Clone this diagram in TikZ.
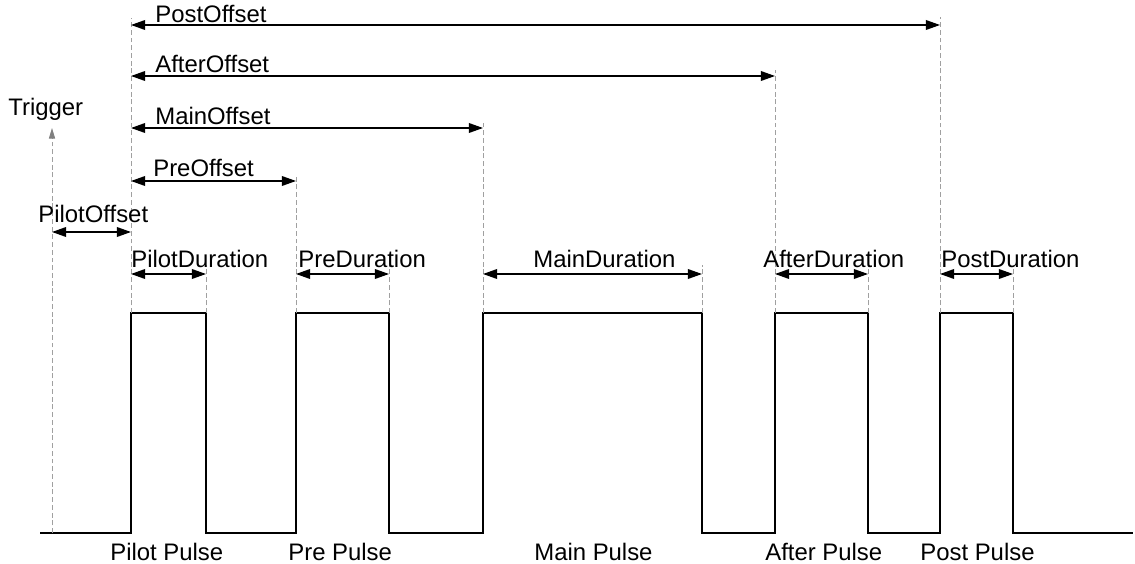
\documentclass[tikz,border=0pt]{standalone}
\usepackage{fontspec}
\setmainfont{Liberation Sans}
\usepackage{xcolor}
\usepackage{tikz}
\usetikzlibrary{arrows.meta,calc}
\definecolor{PTGuide}{HTML}{A0A0A0}
\definecolor{PTWave} {HTML}{000000}

\begin{document}
\begin{tikzpicture}[x=0.02cm,y=-0.02cm,
    lbl/.style={font=\fontsize{13.6}{16}\selectfont,anchor=base west,inner sep=0pt},
    dim/.style={{Triangle[length=8pt,width=5.5pt]}-{Triangle[length=8pt,width=5.5pt]},line width=0.75pt},
    guide/.style={PTGuide,dash pattern=on 2.8pt off 1.6pt,line width=0.5pt},
    wave/.style={PTWave,line width=0.6pt}]
    \useasboundingbox (0,0) rectangle (1135,564);
    % pulse edges
    \coordinate (start)  at (40,533);
    \coordinate (stop)   at (1133,533);
    \coordinate (trig)   at (52,533);
    \coordinate (trigtop) at (52,128);
    \coordinate (pilotL) at (131,313);
    \coordinate (pilotR) at (206,313);
    \coordinate (preL)   at (296,313);
    \coordinate (preR)   at (389,313);
    \coordinate (mainL)  at (483,313);
    \coordinate (mainR)  at (702,313);
    \coordinate (afterL) at (775,313);
    \coordinate (afterR) at (868,313);
    \coordinate (postL)  at (940,313);
    \coordinate (postR)  at (1013,313);

    \draw[wave] (start) -- (pilotL |- start) -- (pilotL) -- (pilotR) -- (pilotR |- start)
      -- (preL |- start) -- (preL) -- (preR) -- (preR |- start)
      -- (mainL |- start) -- (mainL) -- (mainR) -- (mainR |- start)
      -- (afterL |- start) -- (afterL) -- (afterR) -- (afterR |- start)
      -- (postL |- start) -- (postL) -- (postR) -- (postR |- start) -- (stop);

    % guide lines
    \draw[guide,-{Triangle[length=6pt,width=3.5pt,color=gray]}] (trig) -- (trigtop);
    \draw[guide] (pilotL) -- (pilotL |- 0,18);
    \draw[guide] (postL)  -- (postL |- 0,17);
    \draw[guide] (afterL) -- (afterL |- 0,70);
    \draw[guide] (mainL)  -- (mainL |- 0,122);
    \draw[guide] (preL)   -- (preL |- 0,175);
    \foreach \e in {pilotR,preR,mainR,afterR,postR}
      \draw[guide] (\e) -- (\e |- 0,265);

    % offsets
    \draw[dim] (pilotL |- 0,25)  -- (postL |- 0,25);
    \draw[dim] (pilotL |- 0,76)  -- (afterL |- 0,76);
    \draw[dim] (pilotL |- 0,128) -- (mainL |- 0,128);
    \draw[dim] (pilotL |- 0,181) -- (preL |- 0,181);
    \draw[dim] (trig |- 0,232)   -- (pilotL |- 0,232);
    \node[lbl] (postoff)  at (155,23)  {PostOffset};
    \node[lbl] (afteroff) at (155,73)  {AfterOffset};
    \node[lbl] (mainoff)  at (155,125) {MainOffset};
    \node[lbl] (preoff)   at (153,177) {PreOffset};
    \node[lbl] (pilotoff) at (38,222)  {PilotOffset};
    \node[lbl] (trigger)  at (8,116)   {Trigger};

    % durations
    \draw[dim] (pilotL |- 0,274) -- (pilotR |- 0,274);
    \draw[dim] (preL |- 0,274)   -- (preR |- 0,274);
    \draw[dim] (mainL |- 0,274)  -- (mainR |- 0,274);
    \draw[dim] (afterL |- 0,274) -- (afterR |- 0,274);
    \draw[dim] (postL |- 0,274)  -- (postR |- 0,274);
    \node[lbl] (pilotdur) at (131,267) {PilotDuration};
    \node[lbl] (predur)   at (298,267) {PreDuration};
    \node[lbl] (maindur)  at (533,267) {MainDuration};
    \node[lbl] (afterdur) at (763,267) {AfterDuration};
    \node[lbl] (postdur)  at (941,267) {PostDuration};

    % pulse names
    \node[lbl] (pilotname) at (110,560) {Pilot Pulse};
    \node[lbl] (prename)   at (288,560) {Pre Pulse};
    \node[lbl] (mainname)  at (534,560) {Main Pulse};
    \node[lbl] (aftername) at (765,560) {After Pulse};
    \node[lbl] (postname)  at (920,560) {Post Pulse};
\end{tikzpicture}
\end{document}
